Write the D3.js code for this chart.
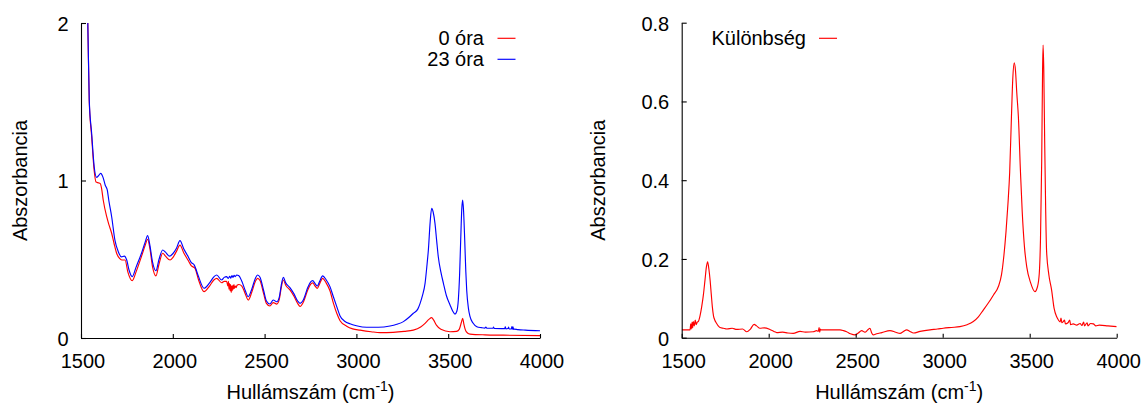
<!DOCTYPE html>
<html>
<head>
<meta charset="utf-8">
<script src="https://cdn.jsdelivr.net/npm/d3@7"></script>
<style>
  html, body { margin: 0; padding: 0; background: #fff; }
  svg { display: block; font-family: "Liberation Sans", Arial, Helvetica, sans-serif; }
</style>
</head>
<body>
<svg id="chart" width="1144" height="404"></svg>
<script>
// IR spectra: wavenumber (cm-1) and absorbance
const wnBlue = [1530,1537,1545,1558,1572,1585,1595,1607,1620,1632,1643,1652,1667,1685,1703,1720,1736,1749,1762,1779,1800,1830,1850,1863,1875,1890,1908,1925,1945,1960,1981,2000,2020,2039,2060,2084,2100,2117,2140,2170,2200,2225,2239,2266,2280,2293,2302,2310,2316,2322,2328,2334,2340,2348,2360,2376,2395,2411,2430,2450,2462,2475,2495,2510,2529,2547,2566,2580,2590,2602,2615,2638,2660,2680,2693,2710,2735,2750,2762,2775,2787,2800,2816,2835,2856,2875,2893,2911,2938,2965,3000,3056,3120,3183,3220,3256,3290,3310,3335,3347,3360,3374,3385,3392,3402,3410,3418,3428,3437,3446,3460,3474,3490,3510,3525,3537,3547,3555,3562,3568,3574,3579,3584,3590,3596,3601,3610,3619,3635,3656,3680,3700,3705,3710,3744,3747,3750,3790,3808,3811,3814,3826,3829,3832,3844,3847,3850,3853,3856,3859,3880,3920,4000];
const absBlue = [2.3,2.0,1.51,1.30,1.086,1.02,1.03,1.045,1.02,0.97,0.94,0.87,0.77,0.62,0.548,0.515,0.52,0.495,0.43,0.39,0.45,0.54,0.61,0.65,0.59,0.48,0.427,0.50,0.559,0.545,0.52,0.535,0.57,0.618,0.565,0.516,0.48,0.463,0.39,0.316,0.35,0.39,0.40,0.368,0.385,0.39,0.378,0.392,0.38,0.396,0.384,0.398,0.39,0.40,0.395,0.36,0.30,0.262,0.31,0.38,0.40,0.385,0.30,0.235,0.216,0.241,0.23,0.26,0.33,0.385,0.35,0.32,0.28,0.235,0.22,0.24,0.32,0.355,0.364,0.345,0.33,0.36,0.394,0.37,0.326,0.26,0.199,0.14,0.105,0.09,0.078,0.068,0.068,0.076,0.087,0.104,0.135,0.157,0.185,0.22,0.27,0.347,0.47,0.559,0.74,0.823,0.80,0.728,0.62,0.516,0.42,0.347,0.27,0.21,0.17,0.152,0.17,0.24,0.40,0.62,0.82,0.876,0.80,0.62,0.42,0.30,0.19,0.135,0.095,0.072,0.066,0.063,0.07,0.062,0.062,0.07,0.061,0.06,0.06,0.071,0.058,0.06,0.07,0.057,0.058,0.073,0.056,0.071,0.055,0.056,0.053,0.05,0.046];

const wnRed = [1530,1537,1545,1558,1572,1582,1595,1605,1612,1621,1640,1652,1667,1680,1694,1710,1722,1740,1755,1779,1800,1830,1850,1863,1875,1890,1908,1925,1945,1960,1985,2000,2020,2039,2060,2085,2100,2121,2140,2170,2200,2225,2239,2266,2280,2293,2300,2303,2306,2309,2312,2315,2318,2321,2324,2327,2330,2333,2336,2340,2345,2350,2360,2376,2395,2411,2430,2450,2462,2475,2495,2510,2529,2547,2566,2580,2590,2602,2615,2638,2660,2680,2693,2710,2735,2750,2762,2775,2787,2800,2816,2835,2856,2875,2893,2911,2947,2980,3020,3080,3129,3200,3260,3310,3350,3374,3395,3410,3420,3437,3460,3510,3545,3560,3572,3579,3585,3594,3605,3619,3700,3800,4000];
const absRed = [2.3,2.0,1.50,1.28,1.06,0.99,0.985,0.98,0.95,0.876,0.77,0.72,0.665,0.60,0.538,0.505,0.495,0.495,0.42,0.364,0.42,0.52,0.59,0.627,0.57,0.45,0.394,0.47,0.538,0.52,0.495,0.51,0.55,0.59,0.54,0.49,0.46,0.442,0.37,0.294,0.33,0.37,0.379,0.351,0.36,0.36,0.33,0.36,0.31,0.345,0.30,0.34,0.29,0.33,0.30,0.335,0.31,0.34,0.315,0.33,0.32,0.335,0.34,0.33,0.28,0.241,0.29,0.36,0.379,0.365,0.28,0.22,0.203,0.225,0.215,0.245,0.315,0.368,0.335,0.305,0.265,0.22,0.20,0.225,0.305,0.34,0.35,0.33,0.315,0.345,0.379,0.35,0.30,0.22,0.157,0.11,0.075,0.058,0.05,0.04,0.034,0.036,0.042,0.05,0.07,0.093,0.118,0.129,0.115,0.08,0.055,0.04,0.042,0.055,0.10,0.125,0.09,0.05,0.032,0.025,0.02,0.018,0.015];

const wnDiff = [1500,1548,1552,1555,1560,1563,1567,1572,1578,1583,1590,1595,1605,1615,1625,1634,1642,1649,1656,1663,1670,1676,1683,1690,1701,1710,1720,1739,1760,1790,1816,1850,1874,1895,1916,1930,1950,1975,2007,2030,2046,2080,2110,2141,2180,2210,2256,2275,2285,2290,2293,2297,2300,2340,2370,2410,2430,2448,2470,2496,2515,2534,2553,2570,2582,2592,2601,2620,2650,2697,2730,2755,2775,2793,2812,2832,2870,2927,2970,3003,3050,3099,3140,3176,3205,3233,3262,3291,3320,3338,3352,3364,3375,3385,3395,3403,3411,3418,3426,3435,3447,3457,3470,3483,3505,3530,3545,3555,3562,3569,3574,3577,3581,3586,3592,3597,3610,3626,3640,3655,3665,3675,3680,3685,3693,3700,3705,3720,3730,3735,3750,3770,3790,3800,3810,3815,3830,3835,3850,3866,3880,3900,3950,4000];
const absDiff = [0.02,0.02,0.035,0.022,0.04,0.025,0.041,0.03,0.045,0.033,0.04,0.041,0.055,0.079,0.11,0.147,0.18,0.193,0.175,0.147,0.11,0.079,0.055,0.045,0.036,0.03,0.026,0.024,0.022,0.024,0.021,0.022,0.015,0.022,0.034,0.03,0.024,0.025,0.021,0.016,0.013,0.014,0.012,0.011,0.016,0.014,0.015,0.018,0.016,0.026,0.014,0.022,0.02,0.02,0.02,0.02,0.018,0.015,0.01,0.007,0.012,0.018,0.014,0.02,0.024,0.012,0.007,0.01,0.013,0.018,0.014,0.011,0.016,0.02,0.016,0.012,0.016,0.02,0.022,0.024,0.026,0.028,0.033,0.041,0.053,0.07,0.088,0.108,0.13,0.16,0.21,0.27,0.34,0.42,0.56,0.66,0.698,0.68,0.62,0.561,0.42,0.32,0.23,0.18,0.14,0.117,0.13,0.163,0.25,0.45,0.68,0.743,0.68,0.50,0.32,0.22,0.16,0.121,0.075,0.053,0.045,0.04,0.05,0.038,0.041,0.045,0.035,0.038,0.045,0.033,0.035,0.032,0.036,0.031,0.04,0.03,0.038,0.03,0.036,0.035,0.03,0.032,0.03,0.028];

const xTicks = [1500, 2000, 2500, 3000, 3500, 4000];
const yTicksLeft = [0, 1, 2];
const yTicksRight = [0, 0.2, 0.4, 0.6, 0.8];
const legendLeft = ["0 óra", "23 óra"];
const legendRight = ["Különbség"];
const xTitle = "Hullámszám (cm";
const xTitleSup = "-1";
const yTitle = "Abszorbancia";

const svg = d3.select("#chart");
const FS = 20;

function panel(opts) {
  const g = svg.append("g");
  const x = d3.scaleLinear().domain([1500, 4000]).range([opts.x0, opts.x1]);
  const y = d3.scaleLinear().domain(opts.yDomain).range([opts.y0, opts.y1]);

  const clipId = "clip" + opts.id;
  svg.append("defs").append("clipPath").attr("id", clipId)
    .append("rect").attr("x", opts.x0).attr("y", opts.y1)
    .attr("width", opts.x1 - opts.x0).attr("height", opts.y0 - opts.y1);

  const line = d3.line().x(d => x(d[0])).y(d => y(d[1])).curve(d3.curveMonotoneX);
  opts.series.forEach(s => {
    const pts = s.wn.map((w, i) => [w, s.ab[i]]);
    g.append("path").datum(pts)
      .attr("clip-path", `url(#${clipId})`)
      .attr("fill", "none").attr("stroke", s.color)
      .attr("stroke-width", 1.15).attr("stroke-linejoin", "round")
      .attr("d", line);
  });

  const xAxis = g.append("g").attr("transform", `translate(0,${opts.y0})`)
    .call(d3.axisBottom(x).tickValues(xTicks).tickFormat(d3.format("d"))
      .tickSizeInner(-4).tickSizeOuter(0).tickPadding(16));
  xAxis.selectAll("text").attr("font-size", FS).attr("font-family", null).attr("fill", "#000").attr("dx", 1.5);

  const yAxis = g.append("g").attr("transform", `translate(${opts.x0},0)`)
    .call(d3.axisLeft(y).tickValues(opts.yTicks).tickFormat(opts.yFormat)
      .tickSizeInner(-5).tickSizeOuter(0).tickPadding(12.5));
  yAxis.selectAll("text").attr("font-size", FS).attr("font-family", null).attr("fill", "#000").attr("dy", "0.37em");
  [xAxis, yAxis].forEach(a => {
    a.selectAll("path.domain").attr("stroke", "#000").attr("stroke-width", 1.1);
    a.selectAll("line").attr("stroke", "#000").attr("stroke-width", 1.1);
  });

  // axis titles
  const xt = g.append("text").attr("x", (opts.x0 + opts.x1) / 2).attr("y", 399)
    .attr("text-anchor", "middle").attr("font-size", FS).attr("fill", "#000");
  xt.append("tspan").text(xTitle);
  xt.append("tspan").attr("dy", -8).attr("font-size", 14).text(xTitleSup);
  xt.append("tspan").attr("dy", 8).text(")");

  g.append("text")
    .attr("transform", `translate(${opts.yTitleX},${(opts.y0 + opts.y1) / 2}) rotate(-90)`)
    .attr("text-anchor", "middle").attr("font-size", FS).attr("fill", "#000")
    .text(yTitle);

  // legend
  opts.legend.forEach((lab, i) => {
    const ly = opts.legY + i * 21;
    g.append("text").attr("x", opts.legTextX).attr("y", ly + 7)
      .attr("text-anchor", "end").attr("font-size", FS).attr("fill", "#000").text(lab);
    g.append("line").attr("x1", opts.legLine[0]).attr("x2", opts.legLine[1])
      .attr("y1", ly).attr("y2", ly)
      .attr("stroke", opts.series[i].color).attr("stroke-width", 1.15);
  });
}

panel({
  id: "L", x0: 81, x1: 540, y0: 338, y1: 23, yDomain: [0, 2],
  yTicks: yTicksLeft, yFormat: d3.format("d"), yTitleX: 27,
  series: [
    { wn: wnRed, ab: absRed, color: "#ff0000" },
    { wn: wnBlue, ab: absBlue, color: "#0000ff" }
  ],
  legend: legendLeft, legY: 38.3, legTextX: 484, legLine: [497.5, 515.5]
});

panel({
  id: "R", x0: 681.7, x1: 1116.7, y0: 337.7, y1: 22.7, yDomain: [0, 0.8],
  yTicks: yTicksRight, yFormat: d3.format(".1~f"), yTitleX: 605,
  series: [
    { wn: wnDiff, ab: absDiff, color: "#ff0000" }
  ],
  legend: legendRight, legY: 38.3, legTextX: 806, legLine: [819, 837]
});
</script>
</body>
</html>
